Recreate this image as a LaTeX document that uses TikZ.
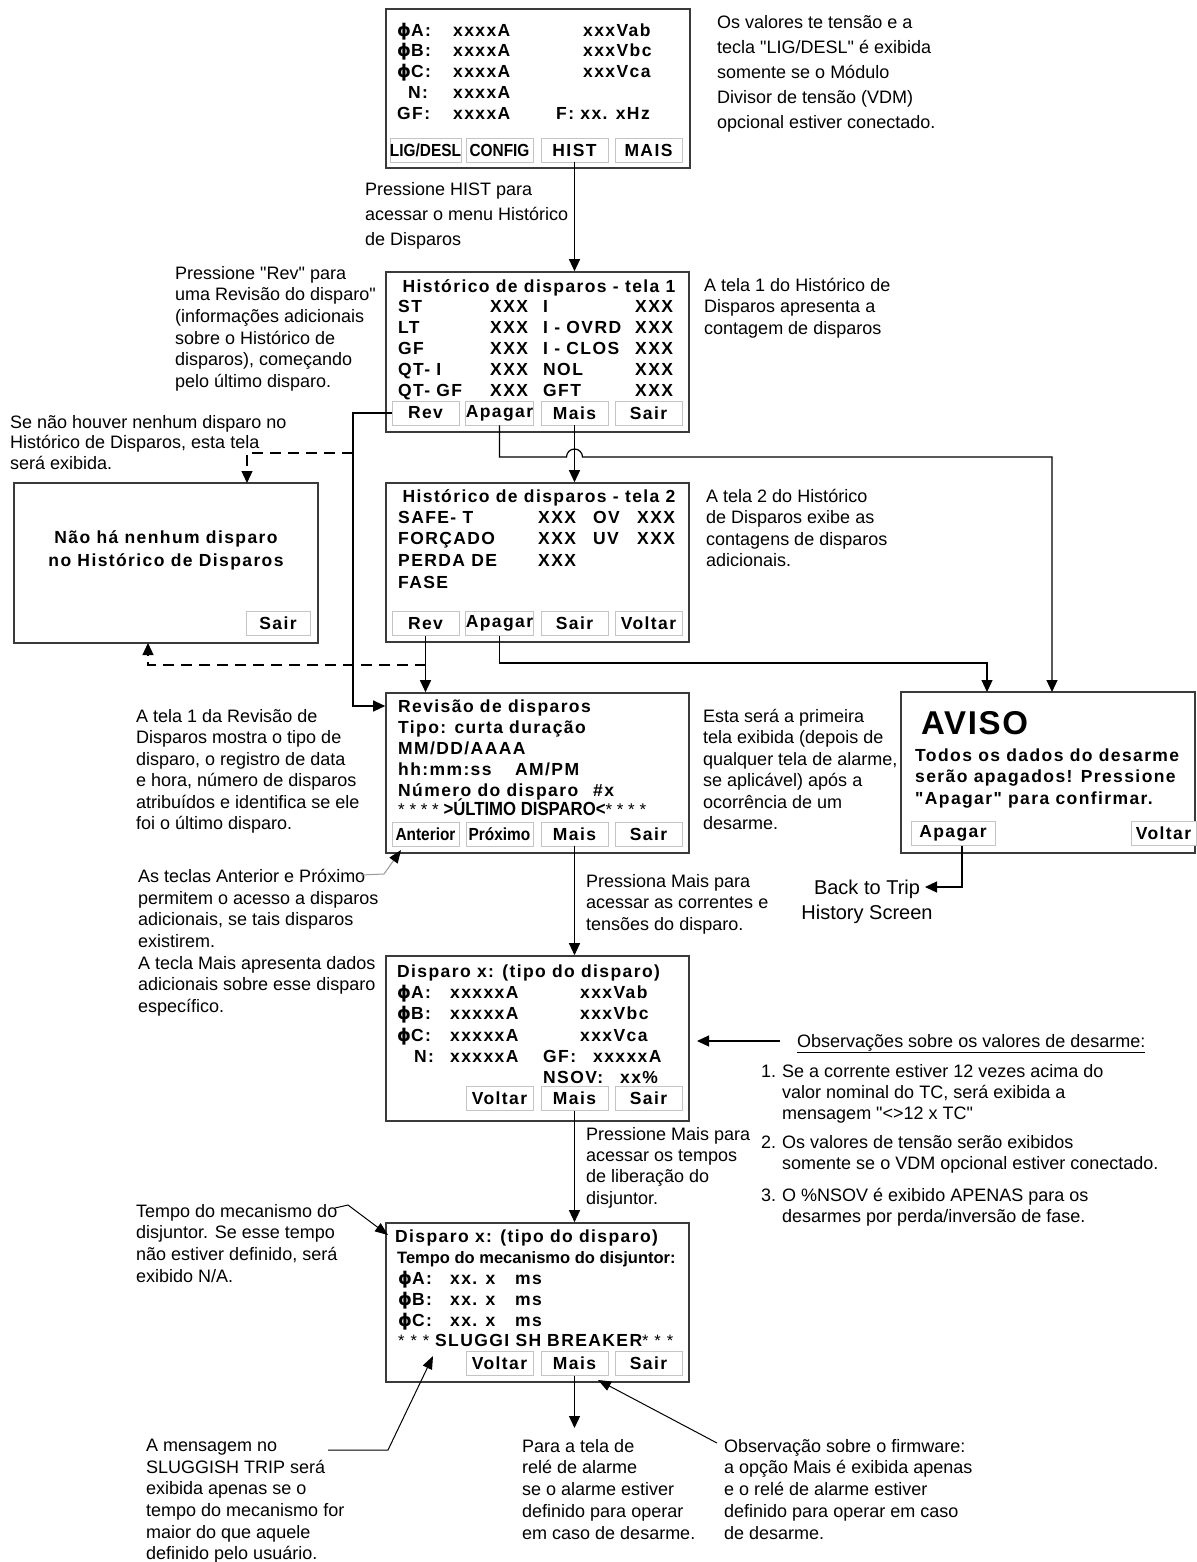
\documentclass[tikz,border=0pt]{standalone}
\usepackage{fontspec}
\setmainfont[Ligatures=TeXOff]{Liberation Sans}
\newfontfamily\scrfont[LetterSpace=8,Ligatures=TeXOff]{Liberation Sans}
\newfontfamily\narrowfont[FakeStretch=0.88,Ligatures=TeXOff]{Liberation Sans}
\newfontfamily\phifont{DejaVu Sans}
\usepackage{xcolor}
\usepackage{tikz}
\usetikzlibrary{positioning,arrows.meta,fit,calc}
\definecolor{ScreenLine}{HTML}{3A3A3A}
\definecolor{KeyLine}{HTML}{C4C4C4}
\newcommand{\ph}{{\phifont\bfseries ϕ}}

\tikzset{
  screen/.style={draw=ScreenLine, line width=1.6pt, inner sep=0pt, fill=white},
  key/.style={draw=KeyLine, line width=0.8pt, fill=white, minimum width=67pt,
    minimum height=24pt, inner sep=0pt, font=\scrfont\bfseries\fontsize{17.5}{20}\selectfont},
  scr/.style={inner sep=0pt, anchor=base west, font=\scrfont\bfseries\fontsize{17.5}{21}\selectfont},
  scrplain/.style={inner sep=0pt, anchor=base west, font=\bfseries\fontsize{16.5}{21}\selectfont},
  note/.style={inner sep=0pt, anchor=north west, align=left, font=\fontsize{18}{21.5}\selectfont},
  wire/.style={line width=1.2pt},
  arr/.style={wire, -{Triangle[length=12pt,width=11pt]}},
  dasharr/.style={arr, dash pattern=on 11pt off 7pt},
  pointer/.style={line width=1pt, -{Triangle[length=13pt,width=10pt]}}
}

\begin{document}
\begin{tikzpicture}[x=1pt,y=-1pt]
\fill[white] (0,0) rectangle (1196,1562);
\useasboundingbox (0,0) rectangle (1196,1562);

% main screen
\node[screen, fit={(386,9) (690,168)}] (s0) {};
\node[scr] (s0r1) at (397,37) {\makebox[56pt][l]{\ph A:}\makebox[130pt][l]{xxxxA}xxxVab};
\node[scr] (s0r2) at (397,57) {\makebox[56pt][l]{\ph B:}\makebox[130pt][l]{xxxxA}xxxVbc};
\node[scr] (s0r3) at (397,78) {\makebox[56pt][l]{\ph C:}\makebox[130pt][l]{xxxxA}xxxVca};
\node[scr] (s0r4) at (397,99) {\makebox[56pt][l]{\hspace{11pt}N:}xxxxA};
\node[scr] (s0r5) at (397,120) {\makebox[56pt][l]{GF:}\makebox[103pt][l]{xxxxA}F: xx. xHz};
\node[key] (s0lig) at (425.5,150) {\narrowfont\bfseries LIG/DESL};
\node[key] (s0cfg) at (499.5,150) {\narrowfont\bfseries CONFIG};
\node[key] (s0hist) at (574.5,150) {HIST};
\node[key] (s0mais) at (648.5,150) {MAIS};

% historico - tela 1
\node[screen, fit={(386,272) (689,432)}] (s1) {};
\node[scr, anchor=base] (s1t) at (539,292) {Histórico de disparos - tela 1};
\node[scr] (s1r1) at (398,312) {\makebox[92pt][l]{ST}\makebox[53pt][l]{XXX}\makebox[92pt][l]{I}XXX};
\node[scr] (s1r2) at (398,333) {\makebox[92pt][l]{LT}\makebox[53pt][l]{XXX}\makebox[92pt][l]{I - OVRD}XXX};
\node[scr] (s1r3) at (398,354) {\makebox[92pt][l]{GF}\makebox[53pt][l]{XXX}\makebox[92pt][l]{I - CLOS}XXX};
\node[scr] (s1r4) at (398,375) {\makebox[92pt][l]{QT- I}\makebox[53pt][l]{XXX}\makebox[92pt][l]{NOL}XXX};
\node[scr] (s1r5) at (398,396) {\makebox[92pt][l]{QT- GF}\makebox[53pt][l]{XXX}\makebox[92pt][l]{GFT}XXX};
\node[key] (s1rev) at (425.5,413) {Rev};
\node[key] (s1apagar) at (499.5,413) {Apagar};
\node[key] (s1mais) at (574.5,413) {Mais};
\node[key] (s1sair) at (648.5,413) {Sair};

% historico - tela 2
\node[screen, fit={(386,483) (689,642)}] (s2) {};
\node[scr, anchor=base] (s2t) at (539,502) {Histórico de disparos - tela 2};
\node[scr] (s2r1) at (398,523) {\makebox[140pt][l]{SAFE- T}\makebox[55pt][l]{XXX}\makebox[44pt][l]{OV}XXX};
\node[scr] (s2r2) at (398,544) {\makebox[140pt][l]{FORÇADO}\makebox[55pt][l]{XXX}\makebox[44pt][l]{UV}XXX};
\node[scr] (s2r3) at (398,566) {\makebox[140pt][l]{PERDA DE}XXX};
\node[scr] (s2r4) at (398,588) {FASE};
\node[key] (s2rev) at (425.5,623.5) {Rev};
\node[key] (s2apagar) at (499.5,623.5) {Apagar};
\node[key] (s2sair) at (574.5,623.5) {Sair};
\node[key] (s2voltar) at (648.5,623.5) {Voltar};

% nenhum disparo
\node[screen, fit={(14,483) (318,643)}] (nope) {};
\node[scr, anchor=center, align=center, font=\scrfont\bfseries\fontsize{17.5}{23}\selectfont]
  (nopetxt) at (166,550) {Não há nenhum disparo\\no Histórico de Disparos};
\node[key, minimum width=64pt] (nopesair) at (278,623.5) {Sair};

% revisao de disparos
\node[screen, fit={(386,693) (689,853)}] (s3) {};
\node[scr] (s3r1) at (398,712) {Revisão de disparos};
\node[scr] (s3r2) at (398,733) {Tipo: curta duração};
\node[scr] (s3r3) at (398,754) {MM/DD/AAAA};
\node[scr] (s3r4) at (398,775) {\makebox[117pt][l]{hh:mm:ss}AM/PM};
\node[scr] (s3r5) at (398,796) {\makebox[195pt][l]{Número do disparo}\#x};
\node[scrplain, font=\bfseries\fontsize{17}{21}\selectfont] (s3r6) at (398,815)
  {{\mdseries * * * * }{\narrowfont\fontsize{19}{21}\selectfont >ÚLTIMO DISPARO<}{\mdseries * * * *}};
\node[key] (s3ant) at (425.5,834) {\narrowfont\bfseries Anterior};
\node[key] (s3prox) at (499.5,834) {\narrowfont\bfseries Próximo};
\node[key] (s3mais) at (574.5,834) {Mais};
\node[key] (s3sair) at (648.5,834) {Sair};

% aviso
\node[screen, fit={(901,692) (1195,853)}] (aviso) {};
\node[inner sep=0pt, anchor=base west, font=\bfseries\fontsize{33}{33}\selectfont\addfontfeature{LetterSpace=5}]
  (avtitle) at (921,734) {AVISO};
\node[scr] (avl1) at (915,761) {Todos os dados do desarme};
\node[scr] (avl2) at (915,782) {serão apagados! Pressione};
\node[scr] (avl3) at (915,804) {"Apagar" para confirmar.};
\node[key, minimum width=84pt] (avapagar) at (953,833.5) {Apagar};
\node[key, minimum width=65pt] (avvoltar) at (1163.5,833.5) {Voltar};

% disparo x - correntes
\node[screen, fit={(386,956) (689,1121)}] (s4) {};
\node[scr] (s4t) at (397,977) {Disparo x: (tipo do disparo)};
\node[scr] (s4r1) at (397,998) {\makebox[53pt][l]{\ph A:}\makebox[130pt][l]{xxxxxA}xxxVab};
\node[scr] (s4r2) at (397,1019) {\makebox[53pt][l]{\ph B:}\makebox[130pt][l]{xxxxxA}xxxVbc};
\node[scr] (s4r3) at (397,1041) {\makebox[53pt][l]{\ph C:}\makebox[130pt][l]{xxxxxA}xxxVca};
\node[scr] (s4r4) at (397,1062) {\makebox[53pt][l]{\hspace{17pt}N:}\makebox[93pt][l]{xxxxxA}\makebox[50pt][l]{GF:}xxxxxA};
\node[scr] (s4r5) at (397,1083) {\hspace{146pt}\makebox[77pt][l]{NSOV:}xx\%};
\node[key] (s4voltar) at (499.5,1098.5) {Voltar};
\node[key] (s4mais) at (574.5,1098.5) {Mais};
\node[key] (s4sair) at (648.5,1098.5) {Sair};

% disparo x - tempos
\node[screen, fit={(386,1223) (689,1382)}] (s5) {};
\node[scr] (s5t) at (395,1242) {Disparo x: (tipo do disparo)};
\node[scrplain] (s5r1) at (397,1263) {Tempo do mecanismo do disjuntor:};
\node[scr] (s5r2) at (398,1284) {\makebox[52pt][l]{\ph A:}\makebox[65pt][l]{xx. x}ms};
\node[scr] (s5r3) at (398,1305) {\makebox[52pt][l]{\ph B:}\makebox[65pt][l]{xx. x}ms};
\node[scr] (s5r4) at (398,1326) {\makebox[52pt][l]{\ph C:}\makebox[65pt][l]{xx. x}ms};
\node[scr] (s5r5) at (398,1346)
  {{\mdseries\fontsize{16.5}{21}\selectfont * * * }SLUGGI SH\hspace{6pt}BREAKER{\mdseries\fontsize{16.5}{21}\selectfont * * *}};
\node[key] (s5voltar) at (499.5,1363.5) {Voltar};
\node[key] (s5mais) at (574.5,1363.5) {Mais};
\node[key] (s5sair) at (648.5,1363.5) {Sair};

% notes
\node[note, font=\fontsize{18}{25}\selectfont] (nvdm) at (717,15)
  {Os valores te tensão e a\\tecla "LIG/DESL" é exibida\\somente se o Módulo\\Divisor de tensão (VDM)\\opcional estiver conectado.};
\node[note, font=\fontsize{18}{25}\selectfont] (nhist) at (365,182)
  {Pressione HIST para\\acessar o menu Histórico\\de Disparos};
\node[note, font=\fontsize{18}{21.6}\selectfont] (nrev) at (175,266)
  {Pressione "Rev" para\\uma Revisão do disparo"\\(informações adicionais\\sobre o Histórico de\\disparos), começando\\pelo último disparo.};
\node[note] (ntela1) at (704,278) {A tela 1 do Histórico de\\Disparos apresenta a\\contagem de disparos};
\node[note, font=\fontsize{18}{20.5}\selectfont] (nvazio) at (10,415)
  {Se não houver nenhum disparo no\\Histórico de Disparos, esta tela\\será exibida.};
\node[note] (ntela2) at (706,489) {A tela 2 do Histórico\\de Disparos exibe as\\contagens de disparos\\adicionais.};
\node[note] (nrev1) at (136,709)
  {A tela 1 da Revisão de\\Disparos mostra o tipo de\\disparo, o registro de data\\e hora, número de disparos\\atribuídos e identifica se ele\\foi o último disparo.};
\node[note] (nfirst) at (703,709)
  {Esta será a primeira\\tela exibida (depois de\\qualquer tela de alarme,\\se aplicável) após a\\ocorrência de um\\desarme.};
\node[inner sep=0pt, align=center, font=\fontsize{20}{25}\selectfont] (backtrip) at (867,901.5)
  {Back to Trip\\History Screen};
\node[note, font=\fontsize{18}{21.7}\selectfont] (nteclas) at (138,869)
  {As teclas Anterior e Próximo\\permitem o acesso a disparos\\adicionais, se tais disparos\\existirem.\\A tecla Mais apresenta dados\\adicionais sobre esse disparo\\específico.};
\node[note] (ncorr) at (586,874) {Pressiona Mais para\\acessar as correntes e\\tensões do disparo.};
\node[inner sep=0pt, anchor=base west, font=\fontsize{18}{21.5}\selectfont] (obstitle) at (797,1047)
  {\underline{Observações sobre os valores de desarme:}};
\node[note, font=\fontsize{18}{21.2}\selectfont] (obslist) at (761,1062)
  {\begin{tabular}{@{}l@{\hspace{6pt}}l@{}}
   1. & Se a corrente estiver 12 vezes acima do\\
      & valor nominal do TC, será exibida a\\
      & mensagem "<>12 x TC"\\[8pt]
   2. & Os valores de tensão serão exibidos\\
      & somente se o VDM opcional estiver conectado.\\[10pt]
   3. & O \%NSOV é exibido APENAS para os\\
      & desarmes por perda/inversão de fase.
   \end{tabular}};
\node[note, font=\fontsize{18}{21.3}\selectfont] (ntempos) at (586,1127)
  {Pressione Mais para\\acessar os tempos\\de liberação do\\disjuntor.};
\node[note, font=\fontsize{18}{21.6}\selectfont] (nmec) at (136,1204)
  {Tempo do mecanismo do\\disjuntor. Se esse tempo\\não estiver definido, será\\exibido N/A.};
\node[note, font=\fontsize{18}{21.6}\selectfont] (nslug) at (146,1439)
  {A mensagem no\\SLUGGISH TRIP será\\exibida apenas se o\\tempo do mecanismo for\\maior do que aquele\\definido pelo usuário.};
\node[note, font=\fontsize{18}{21.7}\selectfont] (nalarm) at (522,1439)
  {Para a tela de\\relé de alarme\\se o alarme estiver\\definido para operar\\em caso de desarme.};
\node[note, font=\fontsize{18}{21.7}\selectfont] (nfirm) at (724,1439)
  {Observação sobre o firmware:\\a opção Mais é exibida apenas\\e o relé de alarme estiver\\definido para operar em caso\\de desarme.};

% connectors
\coordinate (bus) at (353,706);
\coordinate (busA) at (353,453);
\coordinate (busB) at (426,665);
\coordinate (nopetop) at (247,483);
\coordinate (nopebot) at (148,643);
\coordinate (hop) at (574.5,457);
\coordinate (avisoA) at (1052,692);
\coordinate (avisoB) at (987,692);
\coordinate (alarmin) at (574.5,1428);
\coordinate (backin) at (925,887);
\coordinate (obsout) at (780,1041);
\coordinate (obsin) at (697,1041);

\draw[arr] (s0hist.south) -- (s0hist.south |- s1.north);
\draw[arr] (s1rev.west) -| (bus) -- (bus -| s3.west);
\draw[dasharr] (busA) -| (nopetop);
\draw[arr] (s1apagar.south) |- ([xshift=-8pt]hop) arc[start angle=180,end angle=0,radius=8pt] -| (avisoA);
\draw[arr] (s1mais.south) -- (s1mais.south |- s2.north);
\draw[arr] (s2rev.south) -- (s2rev.south |- s3.north);
\draw[dasharr] (busB) -| (nopebot);
\draw[arr] (s2apagar.south) -- ++(0,27) -| (avisoB);
\draw[arr] (s3mais.south) -- (s3mais.south |- s4.north);
\draw[arr] (s4mais.south) -- (s4mais.south |- s5.north);
\draw[arr] (s5mais.south) -- (alarmin);
\draw[arr] ([xshift=9pt]avapagar.south) |- (backin);
\draw[arr] (obsout) -- (obsin);

% pointers from the notes
\coordinate (tecA) at (361,875);
\coordinate (tecB) at (384,874);
\coordinate (tecC) at (401,850);
\coordinate (mecA) at (335,1208);
\coordinate (mecB) at (348,1205);
\coordinate (mecC) at (388,1235);
\coordinate (slugA) at (328,1450);
\coordinate (slugB) at (388,1450);
\coordinate (slugC) at (433,1356);
\coordinate (firmA) at (717,1443);
\coordinate (firmB) at (598,1380);
\draw[pointer, draw=black!40, -{Triangle[length=13pt,width=10pt,color=black]}] (tecA) -- (tecB) -- (tecC);
\draw[pointer] (mecA) -- (mecB) -- (mecC);
\draw[pointer] (slugA) -- (slugB) -- (slugC);
\draw[pointer] (firmA) -- (firmB);
\end{tikzpicture}
\end{document}
